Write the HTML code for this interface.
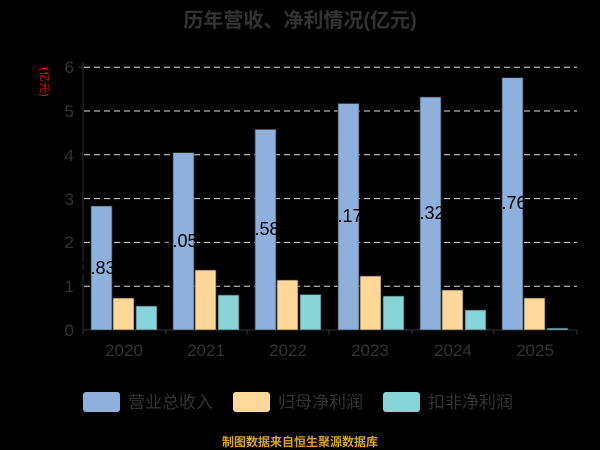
<!DOCTYPE html>
<html><head><meta charset="utf-8"><style>
html,body{margin:0;padding:0;background:#000;}
svg{display:block;}
text{font-family:"Liberation Sans","Noto Sans CJK SC",sans-serif;}
</style></head><body>
<svg width="600" height="450" viewBox="0 0 600 450">
<rect width="600" height="450" fill="#000"/>
<text x="300" y="27" text-anchor="middle" font-size="20" font-weight="bold" fill="#333">历年营收、净利情况(亿元)</text>
<text transform="translate(41,82) rotate(90)" text-anchor="middle" font-size="11" fill="#e00">(亿元)</text>
<g stroke="#ddd" stroke-width="1" stroke-dasharray="6,4">
<line x1="84" y1="67.2" x2="577" y2="67.2"/>
<line x1="84" y1="111" x2="577" y2="111"/>
<line x1="84" y1="154.8" x2="577" y2="154.8"/>
<line x1="84" y1="198.6" x2="577" y2="198.6"/>
<line x1="84" y1="242.4" x2="577" y2="242.4"/>
<line x1="84" y1="286.2" x2="577" y2="286.2"/>
</g>
<g font-size="17" fill="#333" text-anchor="end">
<text x="74" y="336">0</text><text x="74" y="292">1</text><text x="74" y="248">2</text><text x="74" y="205">3</text><text x="74" y="161">4</text><text x="74" y="117">5</text><text x="74" y="73">6</text>
</g>
<line x1="83" y1="62" x2="83" y2="330" stroke="#333"/>
<line x1="78" y1="67.2" x2="83" y2="67.2" stroke="#333"/>
<line x1="83" y1="330" x2="577" y2="330" stroke="#333"/>
<g stroke="#333"><line x1="83" y1="330" x2="83" y2="335"/><line x1="166" y1="330" x2="166" y2="335"/><line x1="247" y1="330" x2="247" y2="335"/><line x1="329" y1="330" x2="329" y2="335"/><line x1="412" y1="330" x2="412" y2="335"/><line x1="494" y1="330" x2="494" y2="335"/><line x1="577" y1="330" x2="577" y2="335"/></g>
<g font-size="17" fill="#333" text-anchor="middle">
<text x="124" y="356">2020</text><text x="206" y="356">2021</text><text x="288" y="356">2022</text><text x="370" y="356">2023</text><text x="453" y="356">2024</text><text x="535" y="356">2025</text>
</g>
<g stroke="#333" stroke-width="0.7">
<rect x="91" y="206" width="21" height="124" fill="#8eb0dd"/>
<rect x="113" y="298" width="21" height="32" fill="#ffd899"/>
<rect x="136" y="306" width="21" height="24" fill="#86d4d8"/>
<rect x="173" y="152.6" width="21" height="177.4" fill="#8eb0dd"/>
<rect x="195" y="270" width="21" height="60" fill="#ffd899"/>
<rect x="218" y="295" width="21" height="35" fill="#86d4d8"/>
<rect x="255" y="129.4" width="21" height="200.6" fill="#8eb0dd"/>
<rect x="277" y="280" width="21" height="50" fill="#ffd899"/>
<rect x="300" y="294.5" width="21" height="35.5" fill="#86d4d8"/>
<rect x="338" y="103.5" width="21" height="226.5" fill="#8eb0dd"/>
<rect x="360" y="276" width="21" height="54" fill="#ffd899"/>
<rect x="383" y="296" width="21" height="34" fill="#86d4d8"/>
<rect x="420" y="97" width="21" height="233" fill="#8eb0dd"/>
<rect x="442" y="290" width="21" height="40" fill="#ffd899"/>
<rect x="465" y="310" width="21" height="20" fill="#86d4d8"/>
<rect x="502" y="77.7" width="21" height="252.3" fill="#8eb0dd"/>
<rect x="524" y="298" width="21" height="32" fill="#ffd899"/>
<rect x="547" y="328.2" width="21" height="1.8" fill="#86d4d8"/>
</g>
<g font-size="18" fill="#000" text-anchor="middle">
<text x="98" y="274">2.83</text><text x="180" y="247">4.05</text><text x="262" y="235">4.58</text><text x="345" y="222">5.17</text><text x="427" y="219">5.32</text><text x="509" y="209">5.76</text>
</g>
<rect x="83" y="392" width="37" height="20" rx="3" fill="#8eb0dd"/>
<text x="128" y="408" font-size="17" fill="#333">营业总收入</text>
<rect x="233" y="392" width="37" height="20" rx="3" fill="#ffd899"/>
<text x="278" y="408" font-size="17" fill="#333">归母净利润</text>
<rect x="383" y="392" width="37" height="20" rx="3" fill="#86d4d8"/>
<text x="428" y="408" font-size="17" fill="#333">扣非净利润</text>
<text x="300" y="446" text-anchor="middle" font-size="12" font-weight="bold" fill="#d9a520">制图数据来自恒生聚源数据库</text>
</svg>
</body></html>
